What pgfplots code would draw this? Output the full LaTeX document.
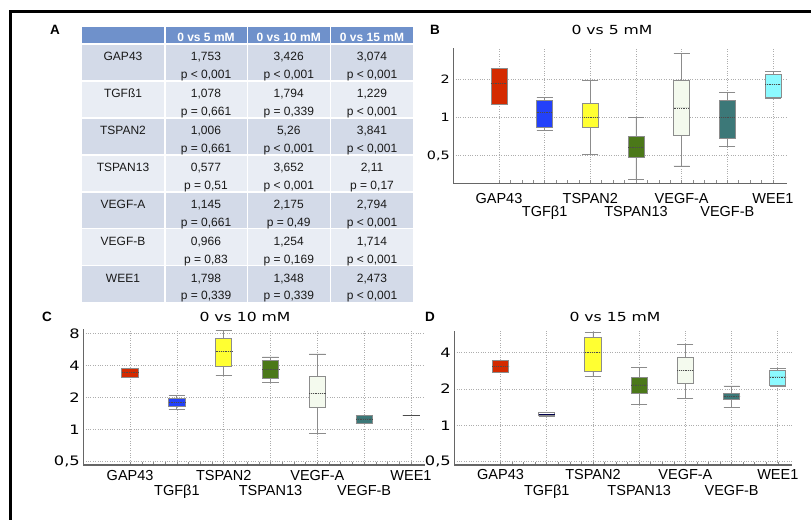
\documentclass[border=0pt]{standalone}
\usepackage{fontspec}
\setmainfont{Liberation Sans}
\newfontfamily\dejavu[FakeStretch=1.25]{DejaVu Sans}
\usepackage{pgfplots}
\pgfplotsset{compat=1.18}
\usepgfplotslibrary{statistics}

\definecolor{hdr}{RGB}{111,145,203}
\definecolor{rowA}{RGB}{211,218,232}
\definecolor{rowB}{RGB}{233,237,244}
\definecolor{cRed}{RGB}{212,42,0}
\definecolor{cBlue}{RGB}{35,65,250}
\definecolor{cYel}{RGB}{255,255,50}
\definecolor{cGrn}{RGB}{75,120,25}
\definecolor{cLt}{RGB}{244,250,238}
\definecolor{cTeal}{RGB}{60,120,120}
\definecolor{cCyan}{RGB}{140,250,255}

\newcommand\low[2]{\raisebox{-#1bp}{#2}}
\newcommand\bx[7]{\addplot[draw=black!45, line width=0.9bp, fill=#7,
  boxplot prepared={draw position=#1, lower whisker=#2, lower quartile=#3,
  median=#4, upper quartile=#5, upper whisker=#6, box extend=0.35, whisker extend=0.35}]
  coordinates {};}

\pgfplotsset{
  every axis/.append style={
    scale only axis,
    xmin=0, xmax=7.3,
    axis x line*=bottom, axis y line*=left,
    axis line style={draw=black!60, line width=1.2bp},
    xtick={1,2,3,4,5,6,7},
    minor x tick num=3,
    tick align=inside,
    major tick length=3bp, minor tick length=3bp,
    tick style={draw=black!45, line width=0.6bp},
    minor tick style={draw=black!45, line width=0.6bp},
    ytick style={draw=none},
    xmajorgrids, ymajorgrids,
    major grid style={dotted, black!32, line width=0.7bp},
    xticklabel style={anchor=base, font=\fontsize{14.5bp}{16bp}\selectfont},
  },
  boxplot/draw direction=y,
  boxplot/every median/.style={densely dotted, black!70, line width=0.8bp},
  boxplot/every whisker/.style={black!45, line width=0.9bp},
}

\newcommand\trow[8]{%
  \pgfmathsetmacro\tp{45+36.9*#1}%
  \pgfmathsetmacro\ta{\tp+16}%
  \pgfmathsetmacro\tb{\tp+33.6}%
  \node[anchor=base] at (123,\ta) {#2};
  \node[anchor=base] at (206,\ta) {#3};
  \node[anchor=base] at (206,\tb) {#4};
  \node[anchor=base] at (288.75,\ta) {#5};
  \node[anchor=base] at (288.75,\tb) {#6};
  \node[anchor=base] at (372,\ta) {#7};
  \node[anchor=base] at (372,\tb) {#8};
}

\begin{document}
\begin{tikzpicture}
\begin{scope}[shift={(0,520bp)}, x=1bp, y=-1bp]
  \path[use as bounding box] (0,0) rectangle (811,520);
  \draw[line width=3bp] (10.7,520) -- (10.7,11.3) -- (811,11.3);
  % table A
  \foreach \a/\b in {82/164,165.5/246.5,248/329.5,331/413}{
    \fill[hdr] (\a,27) rectangle (\b,43.5);
    \foreach \i in {0,...,6}{
      \pgfmathsetmacro\tp{45+36.9*\i}
      \pgfmathsetmacro\bt{\tp+35.3}
      \pgfmathparse{mod(\i,2)==0 ? 1 : 0}
      \ifnum\pgfmathresult=1
        \fill[rowA] (\a,\tp) rectangle (\b,\bt);
      \else
        \fill[rowB] (\a,\tp) rectangle (\b,\bt);
      \fi
    }
  }
  \begin{scope}[every node/.style={font=\fontsize{12bp}{14bp}\selectfont, text=black!90, inner sep=0pt}]
    \node[anchor=base, text=white, font=\bfseries\fontsize{12bp}{14bp}\selectfont] at (206,41.5) {0 vs 5 mM};
    \node[anchor=base, text=white, font=\bfseries\fontsize{12bp}{14bp}\selectfont] at (288.75,41.5) {0 vs 10 mM};
    \node[anchor=base, text=white, font=\bfseries\fontsize{12bp}{14bp}\selectfont] at (372,41.5) {0 vs 15 mM};
    \trow{0}{GAP43}{1,753}{p < 0,001}{3,426}{p < 0,001}{3,074}{p < 0,001}
    \trow{1}{TGFß1}{1,078}{p = 0,661}{1,794}{p = 0,339}{1,229}{p < 0,001}
    \trow{2}{TSPAN2}{1,006}{p = 0,661}{5,26}{p < 0,001}{3,841}{p < 0,001}
    \trow{3}{TSPAN13}{0,577}{p = 0,51}{3,652}{p < 0,001}{2,11}{p = 0,17}
    \trow{4}{VEGF-A}{1,145}{p = 0,661}{2,175}{p = 0,49}{2,794}{p < 0,001}
    \trow{5}{VEGF-B}{0,966}{p = 0,83}{1,254}{p = 0,169}{1,714}{p < 0,001}
    \trow{6}{WEE1}{1,798}{p = 0,339}{1,348}{p = 0,339}{2,473}{p < 0,001}
  \end{scope}
  % panel letters and titles
  \begin{scope}[every node/.style={font=\bfseries\fontsize{13.5bp}{15bp}\selectfont}]
    \node at (55,30) {A};
    \node at (435,30) {B};
    \node at (47,317) {C};
    \node at (430,317) {D};
  \end{scope}
  \begin{scope}[every node/.style={font=\dejavu\fontsize{12.5bp}{14bp}\selectfont}]
    \node at (612,30) {0 vs 5 mM};
    \node at (245,317) {0 vs 10 mM};
    \node at (615,317) {0 vs 15 mM};
  \end{scope}
\end{scope}

% Panel B
\begin{axis}[ymode=log, log basis y=2, at={(453.3bp,336.7bp)}, anchor=south west,
  width=333.4bp, height=135bp,
  ymin=0.303, ymax=3.51, ytick={0.5,1,2}, yticklabels={{0,5},1,2},
  yticklabel style={font=\dejavu\fontsize{11.5bp}{12bp}\selectfont},
  xticklabel style={yshift=-20bp},
  xticklabels={GAP43,\low{13.5}{TGFβ1},TSPAN2,\low{13.5}{TSPAN13},VEGF-A,\low{13.5}{VEGF-B},WEE1}]
  \bx{1}{1.266}{1.266}{1.853}{2.43}{2.43}{cRed}
  \bx{2}{0.794}{0.834}{1.10}{1.369}{1.438}{cBlue}
  \bx{3}{0.513}{0.828}{1.0}{1.289}{1.943}{cYel}
  \bx{4}{0.326}{0.48}{0.58}{0.703}{1.0}{cGrn}
  \bx{5}{0.415}{0.721}{1.19}{1.943}{3.17}{cLt}
  \bx{6}{0.594}{0.687}{1.0}{1.352}{1.563}{cTeal}
  \bx{7}{1.41}{1.427}{1.83}{2.19}{2.29}{cCyan}
\end{axis}

% Panel C
\begin{axis}[ymode=log, log basis y=2, at={(83.3bp,55bp)}, anchor=south west,
  width=341.7bp, height=135.7bp,
  ymin=0.466, ymax=8.72, ytick={0.5,1,2,4,8}, yticklabels={{0,5},1,2,4,8},
  yticklabel style={font=\dejavu\fontsize{13bp}{14bp}\selectfont},
  xticklabel style={yshift=-15bp},
  xticklabels={GAP43,\low{15.5}{TGFβ1},TSPAN2,\low{15.5}{TSPAN13},VEGF-A,\low{15.5}{VEGF-B},WEE1}]
  \bx{1}{3.11}{3.11}{3.44}{3.72}{3.72}{cRed}
  \bx{2}{1.556}{1.646}{1.81}{1.974}{2.09}{cBlue}
  \bx{3}{3.2}{3.91}{5.42}{7.13}{8.54}{cYel}
  \bx{4}{2.77}{3.0}{3.70}{4.43}{4.8}{cGrn}
  \bx{5}{0.925}{1.61}{2.2}{3.15}{5.12}{cLt}
  \bx{6}{1.149}{1.149}{1.26}{1.354}{1.354}{cTeal}
  \addplot[draw=black!70, line width=1bp, fill=white,
    boxplot prepared={draw position=7, lower whisker=1.345, lower quartile=1.345,
    median=1.345, upper quartile=1.345, upper whisker=1.345, box extend=0.35, whisker extend=0.35}]
    coordinates {};
\end{axis}

% Panel D
\begin{axis}[ymode=log, log basis y=2, at={(454.3bp,55bp)}, anchor=south west,
  width=337.4bp, height=134.3bp,
  ymin=0.469, ymax=6.09, ytick={0.5,1,2,4}, yticklabels={{0,5},1,2,4},
  yticklabel style={font=\dejavu\fontsize{13bp}{14bp}\selectfont},
  xticklabel style={yshift=-14.5bp},
  xticklabels={GAP43,\low{16}{TGFβ1},TSPAN2,\low{16}{TSPAN13},VEGF-A,\low{16}{VEGF-B},WEE1}]
  \bx{1}{2.73}{2.73}{3.06}{3.48}{3.48}{cRed}
  \addplot[draw=black!45, line width=0.9bp, fill=white,
    boxplot/every median/.style={solid, blue!30!black, line width=1.2bp},
    boxplot prepared={draw position=2, lower whisker=1.19, lower quartile=1.20,
    median=1.235, upper quartile=1.27, upper whisker=1.28, box extend=0.35, whisker extend=0.35}]
    coordinates {};
  \bx{3}{2.53}{2.79}{4.0}{5.37}{5.9}{cYel}
  \bx{4}{1.49}{1.84}{2.16}{2.5}{3.03}{cGrn}
  \bx{5}{1.68}{2.23}{2.87}{3.64}{4.69}{cLt}
  \bx{6}{1.41}{1.646}{1.73}{1.84}{2.12}{cTeal}
  \bx{7}{2.12}{2.16}{2.52}{2.87}{2.97}{cCyan}
\end{axis}
\end{tikzpicture}
\end{document}
